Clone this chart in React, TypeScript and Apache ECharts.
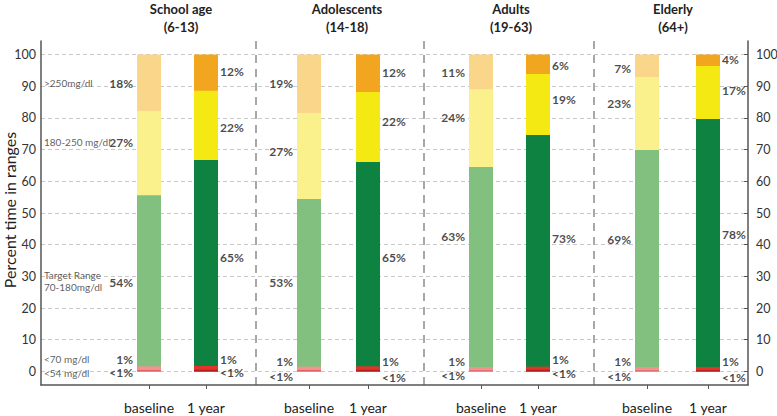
import React, { useEffect, useRef } from 'react';
import * as echarts from 'echarts';

// ---- data ----
const groupTitles = ['School age\n(6-13)', 'Adolescents\n(14-18)', 'Adults\n(19-63)', 'Elderly\n(64+)'];
const periods = ['baseline', '1 year'];
const yAxisTitle = 'Percent time in ranges';
// bar positions along the horizontal value axis (0..707)
const barPositions = [108, 165, 268, 327, 440, 497, 606, 667];
const separatorPositions = [215, 383, 553];
const yTicks = [0, 10, 20, 30, 40, 50, 60, 70, 80, 90, 100];

const rangeNames = ['>250mg/dl', '180-250 mg/dl', 'Target Range\n70-180mg/dl', '<70 mg/dl', '<54 mg/dl'];
const rangeNameY = [91, 72.3, 28.6, 3.9, -0.5];

// values per bar (order: School base, School 1y, Adol base, Adol 1y, Adult base, Adult 1y, Elder base, Elder 1y)
const below54 = [0.4, 0.5, 0.4, 0.5, 0.3, 0.5, 0.3, 0.4];
const from54to70 = [1.2, 1.2, 1.1, 1.1, 1.0, 1.0, 1.0, 1.0];
const target70to180 = [54, 65, 52.9, 64.5, 63.2, 73.1, 68.6, 78.3];
const from180to250 = [26.6, 21.9, 27.2, 22.1, 24.6, 19.3, 23.0, 16.7];
const above250 = [17.8, 11.4, 18.4, 11.8, 10.9, 6.1, 7.1, 3.6];

// printed percentages and the heights where they are written
const above250Lbl = ['18%', '12%', '19%', '12%', '11%', '6%', '7%', '4%'];
const above250LblY = [91.0, 94.8, 91.0, 94.2, 94.2, 96.7, 95.7, 98.6];
const from180Lbl = ['27%', '22%', '27%', '22%', '24%', '19%', '23%', '17%'];
const from180LblY = [72.1, 77.1, 69.3, 79.0, 80.3, 85.7, 84.7, 88.8];
const targetLbl = ['54%', '65%', '53%', '65%', '63%', '73%', '69%', '78%'];
const targetLblY = [28.2, 36.1, 28.2, 36.1, 42.7, 42.1, 41.5, 43.3];
const from54Lbl = ['1%', '1%', '1%', '1%', '1%', '1%', '1%', '1%'];
const from54LblY = [3.9, 3.9, 3.0, 3.0, 3.1, 3.6, 3.0, 3.0];
const below54Lbl = ['<1%', '<1%', '<1%', '<1%', '<1%', '<1%', '<1%', '<1%'];
const below54LblY = [-0.5, -0.5, -1.5, -1.8, -1.3, -0.8, -1.5, -1.8];

const titleCenters = [181, 347, 511, 673];

const baselineColors = ['#e05a5a', '#f29393', '#82c07f', '#faf08c', '#f9d68a'];
const yearColors = ['#b3201b', '#e2342b', '#0d8241', '#f5e914', '#f2a51f'];

const FONT = 'Lato, "Open Sans", sans-serif';
const BAR_W = 24;

export default function App() {
  const ref = useRef<HTMLDivElement>(null);
  useEffect(() => {
    document.body.style.margin = '0';
    const chart = echarts.init(ref.current!, null, { renderer: 'svg' });

    const stacks = [below54, from54to70, target70to180, from180to250, above250];
    // cumulative tops of each segment
    const cumulative = stacks.map((_, k) =>
      barPositions.map((__, i) => stacks.slice(0, k + 1).reduce((s, arr) => s + arr[i], 0))
    );
    // draw tallest first; shorter segments drawn over them
    const barSeries = [4, 3, 2, 1, 0].map((si) => ({
      type: 'bar',
      barWidth: BAR_W,
      barGap: '-100%',
      z: 2,
      data: cumulative[si].map((v, i) => ({
        value: [barPositions[i], v],
        itemStyle: { color: i % 2 === 0 ? baselineColors[si] : yearColors[si] },
      })),
    }));

    const lblSets = [
      [above250Lbl, above250LblY],
      [from180Lbl, from180LblY],
      [targetLbl, targetLblY],
      [from54Lbl, from54LblY],
      [below54Lbl, below54LblY],
    ];
    const pctData: any[] = [];
    lblSets.forEach(([txt, ys]) => {
      (txt as string[]).forEach((t, i) => {
        const isBase = i % 2 === 0;
        pctData.push({
          name: t,
          value: [barPositions[i] + (isBase ? -BAR_W / 2 : BAR_W / 2), (ys as number[])[i]],
          label: { position: isBase ? 'left' : 'right', distance: isBase ? 4 : 2 },
        });
      });
    });

    const rangeData = rangeNames.map((n, i) => ({
      name: n,
      value: [3, rangeNameY[i]],
    }));

    const option: any = {
      animation: false,
      grid: { left: 41, right: 29, top: 41, bottom: 31, containLabel: false, outerBoundsMode: 'none' },
      xAxis: {
        type: 'value',
        min: 0,
        max: 707,
        axisLine: { show: true, onZero: false, lineStyle: { color: '#555', width: 1.5 } },
        axisTick: { show: true, customValues: barPositions, length: 4, lineStyle: { color: '#555' } },
        axisLabel: {
          customValues: barPositions,
          formatter: (v: number) => periods[barPositions.indexOf(v) % 2] ?? '',
          fontSize: 14,
          color: '#222',
          fontFamily: FONT,
          margin: 15,
        },
        splitLine: { show: false },
      },
      yAxis: [
        {
          type: 'value',
          min: -4.3,
          max: 104.3,
          position: 'left',
          axisLine: { show: true, onZero: false, lineStyle: { color: '#555', width: 1.5 } },
          axisTick: { show: false },
          axisLabel: { customValues: yTicks, fontSize: 12.5, color: '#333', margin: 5, fontFamily: FONT },
          splitLine: { show: false },
        },
        {
          type: 'value',
          min: -4.3,
          max: 104.3,
          position: 'right',
          axisLine: { show: true, onZero: false, lineStyle: { color: '#555', width: 1.5 } },
          axisTick: { show: true, inside: true, length: 4, customValues: yTicks, lineStyle: { color: '#555' } },
          axisLabel: { customValues: yTicks, fontSize: 12.5, color: '#333', margin: 8, fontFamily: FONT },
          splitLine: { show: false },
        },
      ],
      series: [
        {
          type: 'line',
          data: [],
          z: 0,
          silent: true,
          markLine: {
            z: 0,
            silent: true,
            symbol: ['none', 'none'],
            label: { show: false },
            data: [
              ...yTicks.map((v) => ({ yAxis: v, lineStyle: { type: [4, 3], color: '#c8c8c8', width: 1 } })),
              ...separatorPositions.map((v) => ({ xAxis: v, lineStyle: { type: [8, 6], color: '#a8a8a8', width: 2 } })),
            ],
          },
        },
        ...barSeries,
        {
          type: 'scatter',
          symbolSize: 0,
          z: 5,
          silent: true,
          data: pctData,
          label: {
            show: true,
            formatter: '{b}',
            fontSize: 12,
            lineHeight: 12,
            fontWeight: 'bold',
            color: '#1a1a1a',
            fontFamily: FONT,
          },
        },
        {
          type: 'scatter',
          symbolSize: 0,
          z: 5,
          silent: true,
          data: rangeData,
          label: {
            show: true,
            position: 'right',
            distance: 0,
            formatter: '{b}',
            fontSize: 10,
            lineHeight: 12,
            color: '#333',
            fontFamily: FONT,
          },
        },
      ],
      graphic: [
        ...groupTitles.map((t, i) => ({
          type: 'text',
          x: titleCenters[i],
          y: 0,
          style: {
            text: t,
            textAlign: 'center',
            textVerticalAlign: 'top',
            fontSize: 13,
            fontWeight: 'bold',
            fontFamily: FONT,
            lineHeight: 18,
            fill: '#222',
          },
        })),
        {
          type: 'text',
          x: 9,
          y: 210,
          rotation: Math.PI / 2,
          style: {
            text: yAxisTitle,
            textAlign: 'center',
            textVerticalAlign: 'middle',
            fontSize: 16,
            fontFamily: FONT,
            fill: '#222',
          },
        },
      ],
    };
    chart.setOption(option);
    return () => chart.dispose();
  }, []);
  return <div ref={ref} style={{ width: 777, height: 416 }} />;
}
